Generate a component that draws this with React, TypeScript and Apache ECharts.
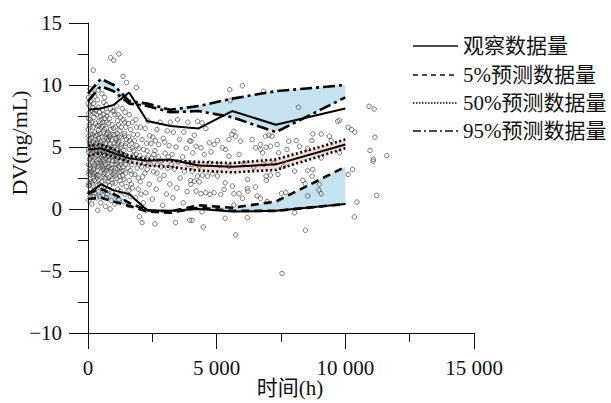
import React, { useEffect, useRef } from "react";
import * as echarts from "echarts";

const FONT = '"Liberation Serif", "Times New Roman", "Noto Sans CJK SC", serif';

// bin times (h) for percentile curves
const binTimes = [0, 500, 1000, 1600, 2300, 3200, 4300, 5600, 7300, 10000];
// observed percentiles
const obs95 = [8.0, 8.1, 8.4, 9.4, 7.1, 6.7, 6.5, 7.9, 6.8, 8.1];
const obs50 = [4.8, 4.9, 4.5, 4.1, 3.9, 4.0, 3.5, 3.4, 3.6, 5.2];
const obs5 = [1.2, 2.0, 1.5, 1.2, -0.1, -0.15, 0.0, -0.2, -0.15, 0.4];
// predicted percentile CI bounds
const p95Hi = [9.3, 10.5, 10.0, 8.7, 8.5, 8.0, 8.3, 8.9, 9.5, 10.0];
const p95Lo = [8.7, 9.9, 9.5, 8.5, 8.3, 7.8, 7.9, 7.4, 6.2, 9.0];
const p50Hi = [5.1, 5.2, 4.8, 4.3, 4.0, 3.9, 3.8, 3.7, 4.0, 5.6];
const p50Lo = [4.3, 4.5, 4.2, 3.8, 3.5, 3.4, 3.1, 2.95, 3.15, 4.9];
const p5Hi = [1.3, 1.6, 1.2, 0.5, -0.1, -0.2, 0.3, 0.1, 0.6, 3.4];
const p5Lo = [0.8, 0.9, 0.6, 0.25, -0.2, -0.3, 0.1, -0.15, -0.15, 0.4];

const legendNames = ["观察数据量", "5%预测数据量", "50%预测数据量", "95%预测数据量"];
const xTicks = [0, 5000, 10000, 15000];
const yTicks = [-10, -5, 0, 5, 10, 15];

// observed concentrations [time, DV]
const observations: [number, number][] = [
  [30,0.7],[60,1.3],[20,1.9],[80,2.4],[40,2.8],[70,3.2],[15,3.6],[55,4.0],[85,4.4],[25,4.8],[65,5.2],[45,5.6],[90,6.0],[10,6.4],[50,6.8],[75,7.2],[35,7.7],[60,8.3],[20,9.0],[80,9.7],[40,3.0],[30,5.9],[85,1.0],
  [150,0.4],[200,1.0],[240,1.6],[170,2.1],[220,2.6],[140,3.0],[250,3.4],[190,3.8],[160,4.2],[230,4.6],[180,5.0],[210,5.4],[145,5.8],[260,6.2],[195,6.6],[155,7.0],[235,7.4],[175,7.9],[215,8.5],[205,11.2],[165,4.9],[245,2.9],[130,9.4],
  [330,0.9],[400,1.4],[360,1.9],[420,2.3],[310,2.7],[380,3.1],[440,3.5],[340,3.9],[390,4.3],[320,4.7],[430,5.1],[370,5.5],[300,5.9],[410,6.3],[350,6.7],[425,7.1],[335,7.6],[395,8.2],[360,8.8],[380,-0.1],[415,4.0],[345,5.3],
  [500,0.5],[560,1.1],[610,1.7],[530,2.2],[590,2.6],[480,3.0],[550,3.4],[600,3.8],[510,4.2],[570,4.6],[620,5.0],[490,5.4],[545,5.8],[600,6.2],[520,6.6],[580,7.0],[495,7.5],[565,8.0],[615,8.6],[540,9.3],[505,4.8],[585,3.2],
  [680,0.2],[720,0.9],[760,1.5],[700,2.0],[790,2.5],[660,2.9],[740,3.3],[780,3.7],[690,4.1],[750,4.5],[800,4.9],[670,5.3],[730,5.7],[770,6.1],[710,6.5],[795,6.9],[655,7.3],[745,7.8],[705,8.4],[765,5.0],[685,3.6],
  [860,0.0],[900,0.7],[950,1.3],[840,1.9],[920,2.4],[970,2.8],[870,3.2],[940,3.6],[830,4.0],[890,4.4],[960,4.8],[850,5.2],[910,5.6],[980,6.0],[875,6.4],[935,6.8],[845,7.3],[955,7.9],[880,12.2],[1000,12.0],[925,4.2],[865,2.6],
  [1040,0.4],[1100,1.0],[1150,1.6],[1060,2.1],[1120,2.5],[1020,2.9],[1080,3.3],[1140,3.7],[1050,4.1],[1110,4.5],[1160,4.9],[1030,5.3],[1090,5.7],[1130,6.1],[1070,6.6],[1150,7.1],[1045,7.6],[1115,8.3],[1200,12.5],[1085,3.9],
  [1200,0.8],[1260,1.4],[1310,2.0],[1220,2.6],[1290,3.0],[1190,3.4],[1250,3.8],[1320,4.2],[1230,4.6],[1280,5.0],[1200,5.4],[1300,5.8],[1240,6.3],[1185,6.8],[1270,7.4],[1330,8.1],[1250,9.0],
  [1380,0.6],[1440,1.2],[1490,1.8],[1400,2.4],[1460,2.9],[1370,3.4],[1430,3.9],[1480,4.3],[1390,4.7],[1450,5.1],[1500,5.6],[1410,6.1],[1470,6.6],[1365,7.2],[1440,7.8],[1360,10.7],[1500,10.2],
  [120,2.2],[260,3.6],[90,4.1],[310,4.4],[440,2.0],[580,4.0],[700,3.1],[760,5.5],[50,5.4],[180,6.0],[420,5.7],[640,6.4],[110,3.3],[350,2.5],[530,3.6],[690,4.7],[780,2.2],[20,4.6],[230,5.1],[470,6.1],[600,2.8],[150,4.5],[380,3.7],[560,5.3],[720,6.0],[70,6.6],[290,6.9],[510,7.2],[660,4.3],[800,3.9],[40,2.1],[270,1.3],[460,1.0],[620,1.5],[750,1.2],
  [850,5.8],[1000,4.6],[1150,3.2],[1300,5.2],[1450,3.6],[900,3.0],[1050,6.0],[1200,4.4],[1350,2.7],[1480,5.3],[950,2.1],[1100,5.5],[1250,2.3],[1400,4.1],
  [100,1.6],[240,2.3],[390,2.7],[520,1.8],[670,2.5],[810,3.4],[960,3.9],[1120,4.8],[1280,3.6],[1420,5.9],
  [60,3.5],[200,4.0],[340,4.6],[480,4.4],[630,4.9],[770,4.2],[910,5.0],[1060,3.6],[1210,5.8],[1370,4.4],
  [140,5.3],[280,5.6],[430,6.7],[570,6.7],[710,7.0],[850,6.0],[990,6.5],[1140,5.3],[1290,6.6],[1430,7.0],
  [30,7.3],[170,8.2],[310,8.0],[450,7.8],[590,7.6],[730,7.5],[870,8.1],[1010,7.9],[1170,7.6],
  [80,5.0],[220,3.2],[360,3.4],[500,3.8],[640,3.3],[780,4.6],[920,3.3],[1070,2.7],[1220,3.0],[1360,3.1],
  [120,8.7],[260,9.1],[400,9.6],[10,8.5],[650,9.0],
  [100,7.9],[240,7.7],[380,6.0],[520,5.1],[660,5.8],[800,5.6],[60,1.9],[200,2.8],[450,4.7],[590,4.3],[730,4.9],[880,4.7],[1020,5.0],[1160,4.2],[1300,4.5],
  [1580,0.3],[1650,1.0],[1720,1.7],[1600,2.3],[1690,2.8],[1560,3.3],[1630,3.8],[1740,4.3],[1610,4.8],[1700,5.3],[1570,5.8],[1660,6.4],[1730,7.0],[1600,7.6],[1880,9.8],
  [1520,4.0],[1620,5.5],[1700,3.6],[1780,4.7],[1560,6.9],[1680,2.0],[1760,6.0],[1590,1.5],[1720,4.9],[1640,3.1],
  [1850,0.9],[1950,1.6],[2030,2.2],[1820,2.8],[1910,3.3],[2000,3.8],[1870,4.4],[1980,4.9],[1800,5.5],[1930,6.0],[2040,6.6],[1860,7.2],[2000,-0.6],
  [1900,5.1],[2000,4.3],[2100,5.6],[1950,2.5],[2080,3.4],[2180,4.1],[1890,6.6],[2060,1.2],[2210,2.9],[2300,4.7],
  [2150,0.5],[2250,1.3],[2380,2.0],[2120,2.6],[2300,3.2],[2200,3.7],[2350,4.3],[2160,4.8],[2280,5.3],[2400,5.9],[2220,6.5],[2330,7.1],[2100,-1.1],[2250,-0.1],
  [2420,3.6],[2560,4.4],[2680,2.9],[2450,5.3],[2620,5.5],[2730,4.2],[2850,3.4],[2980,5.4],[3120,4.2],[3240,3.6],
  [2500,0.8],[2650,1.6],[2780,2.4],[2550,3.0],[2700,3.6],[2470,4.1],[2600,4.7],[2750,5.2],[2520,5.8],[2680,6.4],[2600,-1.2],[2800,7.0],
  [2900,0.3],[3050,1.2],[3180,2.0],[2950,2.7],[3100,3.3],[2870,3.9],[3000,4.5],[3150,5.1],[2920,5.7],[3080,6.3],[3200,7.0],
  [3300,0.9],[3450,1.7],[3580,2.5],[3350,3.2],[3500,3.8],[3270,4.4],[3420,5.0],[3560,5.6],[3320,6.2],[3400,-1.1],[3480,7.2],
  [3700,0.5],[3850,1.4],[3980,2.3],[3750,3.0],[3900,3.6],[3680,4.2],[3820,4.9],[3950,5.5],[3720,6.2],[3880,7.0],[3950,-0.9],
  [4040,3.05],[4260,2.65],[4450,2.73],[4640,2.65],[4130,2.25],[4320,2.19],[4840,2.84],[5030,2.65],[5330,2.11],[5290,1.58],[5160,1.18],
  [4200,1.45],[4390,1.23],[4580,1.31],[4740,1.18],[4900,1.31],[4000,1.99],[5670,1.23],[5870,1.23],[5610,1.85],[6000,0.86],
  [6190,2.39],[6190,1.66],[6210,1.45],[6510,1.77],[6570,1.05],[6700,0.86],[6920,2.65],[6930,2.31],[7090,2.73],[7380,2.79],[7520,1.26],[7690,1.31],
  [6960,0.59],[5670,0.32],[4430,-0.22],[4040,-0.91],[5330,-0.75],[6190,-0.7],[4480,-1.45],[5740,-2.09],[7540,-5.2],
  [4050,3.6],[4320,3.45],[4710,3.7],[5100,3.55],[5480,3.45],[6060,3.7],[6440,3.38],[6830,3.6],[7220,3.7],[7600,3.45],
  [5510,9.62],[6000,9.94],[6830,9.49],[5520,8.74],[4260,7.07],[4430,6.94],[4580,6.49],[4130,5.95],[4000,5.47],
  [5670,6.27],[5590,6.0],[5740,5.87],[5480,5.6],[5930,5.47],[6380,5.6],[6510,4.93],[6900,5.87],[7030,5.95],[7090,5.06],[6920,4.98],
  [7800,5.47],[7730,4.8],[7410,4.53],[4710,5.33],[4900,5.2],[5030,5.52],[5220,4.93],[5350,4.8],[4200,5.06],[4390,4.93],
  [4520,4.4],[4780,4.61],[5480,4.26],[5870,4.4],[6700,4.8],[6790,4.53],[4070,4.53],[7150,5.87],[6700,5.2],[7350,5.2],
  [10920,8.28],[11120,8.06],[9700,7.07],[9770,7.15],[10110,6.6],[10240,6.4],[10370,6.2],[11150,5.79],[10960,4.72],[11610,4.3],[11090,4.0],
  [8180,8.2],[8740,6.05],[9060,6.05],[9380,5.87],[9450,5.52],[8090,5.52],[8700,5.52],[8220,5.06],[8540,4.88],[9060,4.12],[9770,4.53],
  [10280,3.19],[10110,2.79],[8540,3.11],[8740,3.19],[8710,2.65],[8350,2.31],[8440,2.03],[8990,1.98],[8970,1.53],[9060,1.23],[8540,1.05],
  [11220,1.1],[10450,0.56],[10350,-0.64],[8450,-1.71],[11080,3.86],[8030,3.05],[8030,-0.3]
];

const pairs = (ys: number[]) => binTimes.map((t, i) => [t, ys[i]]);

function band(upper: number[], lower: number[], color: string) {
  return {
    type: "custom",
    silent: true,
    z: 1,
    data: [[0, 0]],
    encode: { x: 0, y: 1 },
    renderItem: (_params: any, api: any) => {
      const up = pairs(upper).map((p) => api.coord(p));
      const lo = pairs(lower).map((p) => api.coord(p)).reverse();
      return { type: "polygon", shape: { points: up.concat(lo) }, style: { fill: color } };
    },
  };
}

function line(name: string, ys: number[], type: any, width: number) {
  return {
    type: "line",
    name,
    z: 4,
    symbol: "none",
    data: pairs(ys),
    lineStyle: { color: "#000", width, type },
  };
}

const DASH = [8, 5];
const DOT = [2, 2.5];
const DASHDOT = [12, 4, 3, 4];
const legendDash: any[] = [null, [5, 4], [1.5, 1.5], [8, 3, 2, 3]];
const legendRowsY = [46, 75, 103, 131];

export default function App() {
  const ref = useRef<HTMLDivElement>(null);
  useEffect(() => {
    if (!ref.current) return;
    const chart = echarts.init(ref.current, null, { renderer: "svg" });
    const fmtX = (v: number) =>
      v >= 1000 ? `${Math.floor(v / 1000)} ${String(v % 1000).padStart(3, "0")}` : String(v);
    const fmtY = (v: number) => (v < 0 ? "\u2212" + Math.abs(v) : String(v));
    const legendGraphics: any[] = [];
    legendNames.forEach((name, i) => {
      const y = legendRowsY[i];
      legendGraphics.push({
        type: "line",
        shape: { x1: 413, y1: y, x2: 458, y2: y },
        style: { stroke: "#111", lineWidth: 1.3, lineDash: legendDash[i] || undefined },
      });
      legendGraphics.push({
        type: "text",
        x: 463,
        y,
        style: {
          text: name,
          fontSize: 21,
          fontFamily: FONT,
          fill: "#111",
          align: "left",
          verticalAlign: "middle",
        },
      });
    });
    chart.setOption({
      animation: false,
      backgroundColor: "#fff",
      grid: { left: 88, right: 137, top: 23, bottom: 70, containLabel: false },
      xAxis: {
        type: "value",
        min: xTicks[0],
        max: xTicks[xTicks.length - 1],
        interval: 5000,
        axisLine: { show: true, onZero: false, lineStyle: { color: "#111", width: 1 } },
        axisTick: { show: true, length: 16, lineStyle: { color: "#111" } },
        minorTick: { show: true, splitNumber: 2, length: 9, lineStyle: { color: "#111" } },
        splitLine: { show: false },
        minorSplitLine: { show: false },
        axisLabel: { margin: 24, fontSize: 21, fontFamily: FONT, color: "#111", formatter: fmtX },
      },
      yAxis: {
        type: "value",
        min: yTicks[0],
        max: yTicks[yTicks.length - 1],
        interval: 5,
        axisLine: { show: true, onZero: false, lineStyle: { color: "#111", width: 1 } },
        axisTick: { show: true, length: 19, lineStyle: { color: "#111" } },
        minorTick: { show: true, splitNumber: 2, length: 10, lineStyle: { color: "#111" } },
        splitLine: { show: false },
        minorSplitLine: { show: false },
        axisLabel: { margin: 26, fontSize: 21, fontFamily: FONT, color: "#111", formatter: fmtY },
      },
      graphic: [
        {
          type: "text",
          x: 19,
          y: 143,
          rotation: Math.PI / 2,
          style: {
            text: "DV(ng/mL)",
            fontSize: 22,
            fontFamily: FONT,
            fill: "#111",
            align: "center",
            verticalAlign: "middle",
          },
        },
        {
          type: "text",
          x: 290,
          y: 388,
          style: {
            text: "时间(h)",
            fontSize: 21,
            fontFamily: FONT,
            fill: "#111",
            align: "center",
            verticalAlign: "middle",
          },
        },
        ...legendGraphics,
      ],
      series: [
        band(p95Hi, p95Lo, "#c6e2ee"),
        band(p5Hi, p5Lo, "#c6e2ee"),
        band(p50Hi, p50Lo, "#f6d8d5"),
        {
          type: "scatter",
          z: 2,
          symbol: "circle",
          symbolSize: 4.5,
          data: observations,
          itemStyle: { color: "rgba(255,255,255,0)", borderColor: "#444", borderWidth: 0.9 },
        },
        line(legendNames[0], obs95, "solid", 2),
        line(legendNames[0], obs50, "solid", 2),
        line(legendNames[0], obs5, "solid", 2),
        line(legendNames[1], p5Hi, DASH, 2.6),
        line(legendNames[1], p5Lo, DASH, 2.6),
        line(legendNames[2], p50Hi, DOT, 2.6),
        line(legendNames[2], p50Lo, DOT, 2.6),
        line(legendNames[3], p95Hi, DASHDOT, 2.6),
        line(legendNames[3], p95Lo, DASHDOT, 2.6),
      ],
    });
    return () => chart.dispose();
  }, []);
  return (
    <div
      ref={ref}
      style={{ position: "fixed", left: 0, top: 0, width: 611, height: 403 }}
    />
  );
}
